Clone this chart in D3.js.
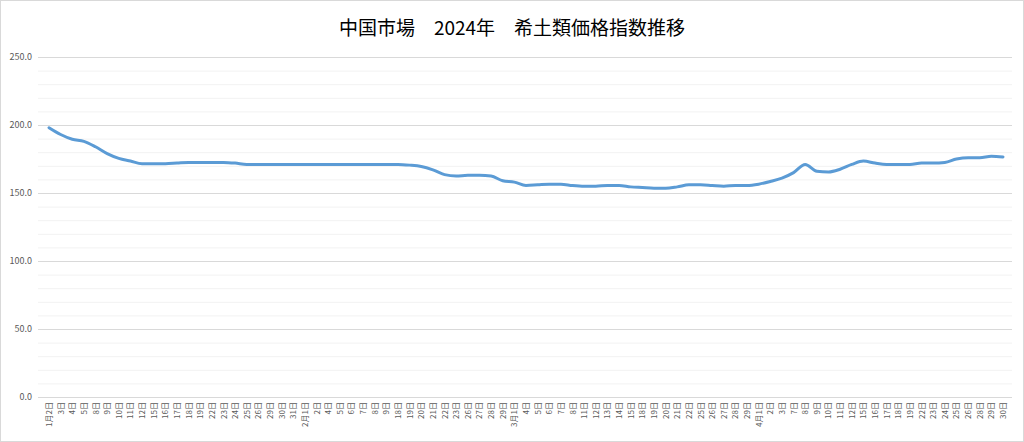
<!DOCTYPE html>
<html>
<head>
<meta charset="utf-8">
<script src="https://cdn.jsdelivr.net/npm/d3@7"></script>
<style>
  body { margin: 0; background: #fff; }
  text { font-family: "Noto Sans CJK JP", sans-serif; }
</style>
</head>
<body>
<div id="chart"></div>
<script>
// trading days (tick labels)
var jan = [2,3,4,5,8,9,10,11,12,15,16,17,18,19,22,23,24,25,26,29,30,31];
var feb = [1,2,4,5,6,7,8,9,18,19,20,21,22,23,26,27,28,29];
var mar = [1,4,5,6,7,8,11,12,13,14,15,18,19,20,21,22,25,26,27,28,29];
var apr = [1,2,3,7,8,9,10,11,12,15,16,17,18,19,22,23,24,25,26,28,29,30];

// index values
var janVals = [198,193,189.5,188,184,179,175.5,173.5,171.5,171.5,171.5,172,172.5,172.5,172.5,172.5,172,171,171,171,171,171];
var febVals = [171,171,171,171,171,171,171,171,171,170.5,169.5,167,163.5,162.5,163,163,162.5,159];
var marVals = [158,155.5,156,156.5,156.5,155.5,155,155,155.5,155.5,154.5,154,153.5,153.5,154.5,156,156,155.5,155,155.5,155.5];
var aprVals = [156.5,158.5,161,165,171,166,165.5,167.5,171,173.5,172,171,171,171,172,172,172.5,175,176,176,177,176.5];

var yTicks = [0, 50, 100, 150, 200, 250];

var data = [];
[[1, jan, janVals], [2, feb, febVals], [3, mar, marVals], [4, apr, aprVals]].forEach(function (m) {
  m[1].forEach(function (d, i) {
    data.push({ label: (i === 0 ? m[0] + "月" : "") + d + "日", value: m[2][i], key: m[0] + "-" + d });
  });
});

var W = 1024, H = 442;
var svg = d3.select("#chart").append("svg").attr("width", W).attr("height", H);

svg.append("rect").attr("x", 0.5).attr("y", 0.5).attr("width", W - 1).attr("height", H - 1)
  .attr("fill", "#fff").attr("stroke", "#d9d9d9");

svg.append("text").attr("x", 512).attr("y", 35).attr("text-anchor", "middle")
  .attr("font-size", 19).attr("fill", "#000")
  .text("中国市場　2024年　希土類価格指数推移");

var x = d3.scalePoint().domain(data.map(function (d) { return d.key; })).range([49, 1003]);
var y = d3.scaleLinear().domain([0, 250]).range([397, 57]);

// grid: major every 50, minor every 10
svg.append("g").selectAll("line").data(d3.range(0, 251, 10)).enter().append("line")
  .attr("x1", 38).attr("x2", 1012)
  .attr("y1", function (d) { return y(d) + 0.5; }).attr("y2", function (d) { return y(d) + 0.5; })
  .attr("stroke", function (d) { return d % 50 === 0 ? "#d9d9d9" : "#f2f2f2"; });

svg.append("g").selectAll("text").data(yTicks).enter().append("text")
  .attr("x", 32).attr("y", function (d) { return y(d) + 3; })
  .attr("text-anchor", "end").attr("font-size", 9).attr("fill", "#595959")
  .text(function (d) { return d3.format(".1f")(d); });

svg.append("g").selectAll("text").data(data).enter().append("text")
  .attr("transform", function (d) { return "translate(" + (x(d.key) + 3) + ",402) rotate(-90)"; })
  .attr("text-anchor", "end").attr("font-size", 8).attr("fill", "#595959")
  .text(function (d) { return d.label; });

var line = d3.line().x(function (d) { return x(d.key); }).y(function (d) { return y(d.value); })
  .curve(d3.curveMonotoneX);

svg.append("path").datum(data).attr("d", line).attr("fill", "none")
  .attr("stroke", "#5b9bd5").attr("stroke-width", 3).attr("stroke-linecap", "round")
  .attr("stroke-linejoin", "round");
</script>
</body>
</html>
